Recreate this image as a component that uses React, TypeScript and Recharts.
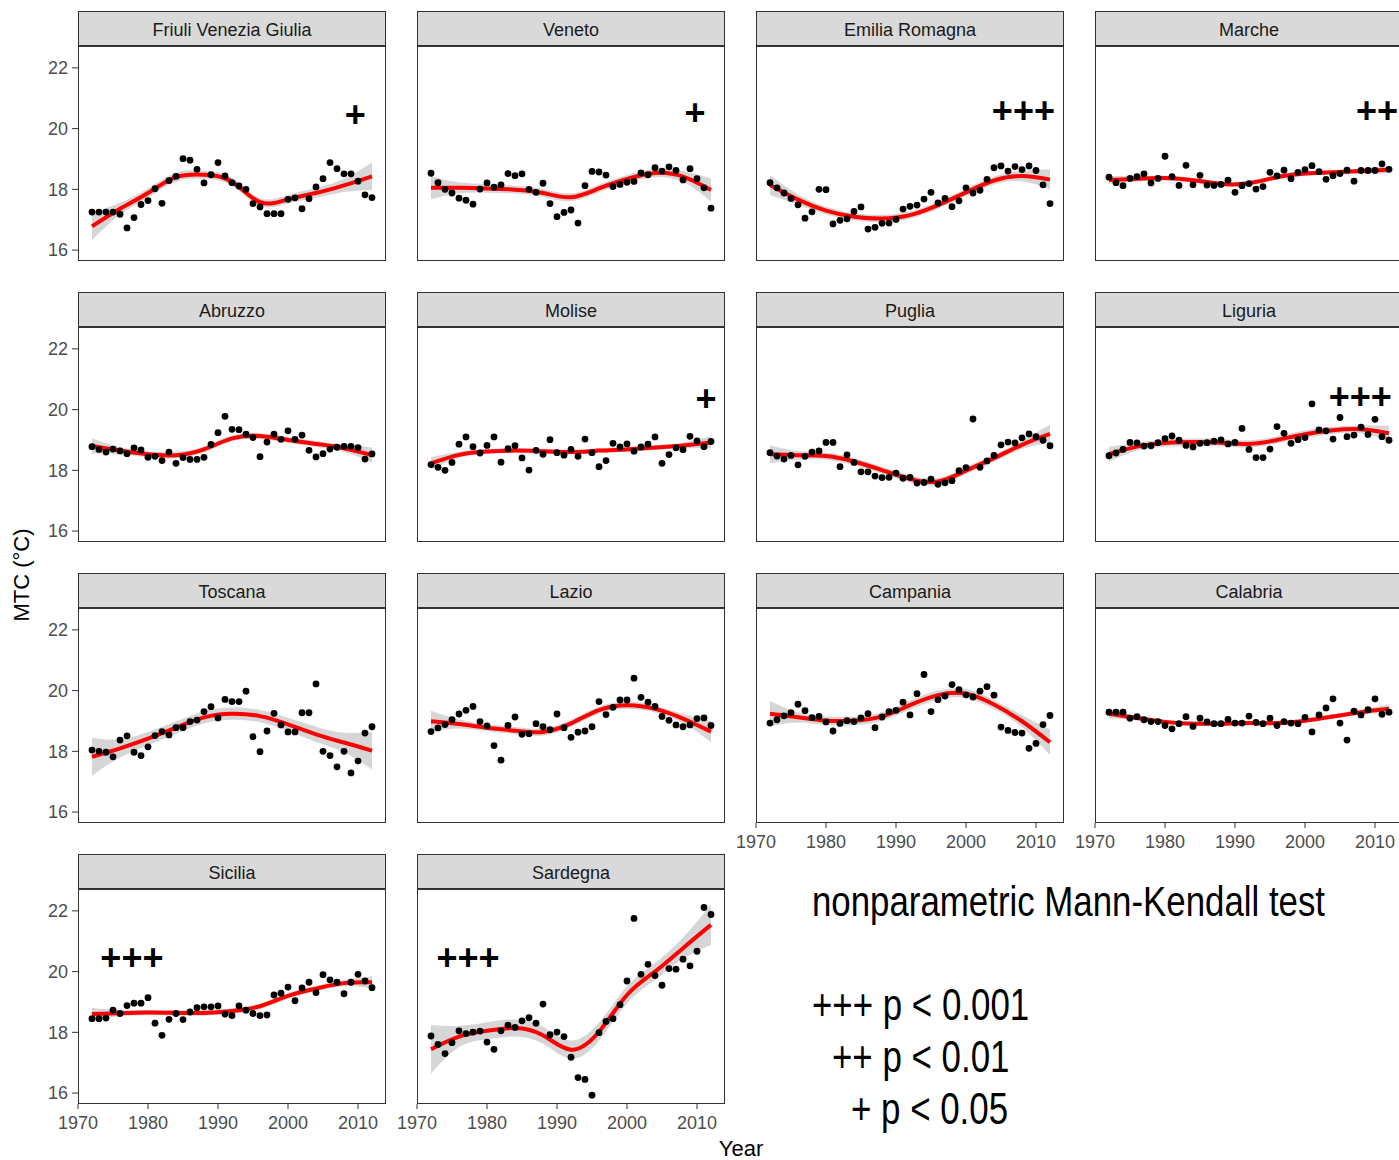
import React from "react"
import { ComposedChart, XAxis, YAxis, Area, Line, Scatter, ReferenceDot } from "recharts"

// observation years and the years where the smoothed curve was read
const YEARS = [
  1972, 1973, 1974, 1975, 1976, 1977, 1978, 1979, 1980, 1981,
  1982, 1983, 1984, 1985, 1986, 1987, 1988, 1989, 1990, 1991,
  1992, 1993, 1994, 1995, 1996, 1997, 1998, 1999, 2000, 2001,
  2002, 2003, 2004, 2005, 2006, 2007, 2008, 2009, 2010, 2011, 2012,
]
const FIT_YEARS = [1972, 1976, 1980, 1984, 1988, 1992, 1996, 2000, 2004, 2008, 2012]
const YEAR_TICKS = [1970, 1980, 1990, 2000, 2010]
const TEMP_TICKS = [16, 18, 20, 22]

const friuliT = [17.25, 17.25, 17.25, 17.25, 17.18, 16.73, 17.07, 17.5, 17.63, 18.02, 17.54, 18.29, 18.43, 19.01, 18.96, 18.66, 18.21, 18.48, 18.88, 18.44, 18.22, 18.11, 18.0, 17.53, 17.42, 17.2, 17.2, 17.2, 17.67, 17.72, 17.36, 17.69, 18.08, 18.35, 18.88, 18.68, 18.51, 18.51, 18.27, 17.82, 17.73]
const friuliFit = [16.78, 17.36, 17.88, 18.4, 18.48, 18.25, 17.58, 17.67, 17.88, 18.13, 18.43]
const friuliSe = [0.45, 0.2, 0.15, 0.15, 0.13, 0.13, 0.13, 0.14, 0.16, 0.22, 0.45]

const venetoT = [18.53, 18.22, 18.0, 17.88, 17.71, 17.64, 17.51, 18.01, 18.21, 18.07, 18.15, 18.52, 18.45, 18.51, 18.0, 17.9, 18.2, 17.53, 17.1, 17.24, 17.32, 16.89, 18.12, 18.59, 18.57, 18.47, 18.09, 18.16, 18.23, 18.26, 18.54, 18.48, 18.71, 18.6, 18.74, 18.62, 18.31, 18.68, 18.35, 18.05, 17.38]
const venetoFit = [18.05, 18.05, 18.03, 17.99, 17.88, 17.74, 18.03, 18.34, 18.54, 18.42, 17.98]
const venetoSe = [0.38, 0.18, 0.14, 0.13, 0.13, 0.13, 0.13, 0.13, 0.14, 0.18, 0.38]

const emiliaT = [18.22, 18.05, 17.88, 17.7, 17.49, 17.05, 17.26, 18.0, 17.99, 16.86, 16.98, 17.03, 17.27, 17.42, 16.69, 16.75, 16.88, 16.89, 17.01, 17.35, 17.44, 17.48, 17.68, 17.9, 17.55, 17.7, 17.43, 17.62, 18.05, 17.88, 17.97, 18.33, 18.71, 18.77, 18.6, 18.75, 18.65, 18.77, 18.62, 18.15, 17.53]
const emiliaFit = [18.14, 17.66, 17.3, 17.1, 17.04, 17.15, 17.48, 17.9, 18.29, 18.44, 18.32]
const emiliaSe = [0.33, 0.17, 0.13, 0.12, 0.12, 0.12, 0.12, 0.12, 0.13, 0.17, 0.33]

const marcheT = [18.4, 18.22, 18.12, 18.36, 18.42, 18.51, 18.21, 18.36, 19.09, 18.42, 18.13, 18.79, 18.15, 18.46, 18.14, 18.13, 18.16, 18.3, 17.9, 18.12, 18.19, 18.01, 18.09, 18.56, 18.44, 18.63, 18.35, 18.56, 18.65, 18.78, 18.58, 18.33, 18.45, 18.52, 18.63, 18.27, 18.62, 18.62, 18.62, 18.84, 18.66]
const marcheFit = [18.31, 18.35, 18.37, 18.3, 18.18, 18.2, 18.4, 18.52, 18.56, 18.6, 18.65]
const marcheSe = [0.13, 0.09, 0.08, 0.08, 0.08, 0.08, 0.08, 0.08, 0.08, 0.09, 0.13]

const abruzzoT = [18.78, 18.69, 18.6, 18.7, 18.64, 18.55, 18.74, 18.67, 18.43, 18.46, 18.32, 18.6, 18.23, 18.42, 18.36, 18.36, 18.43, 18.85, 19.24, 19.78, 19.35, 19.34, 19.19, 19.08, 18.45, 18.93, 19.19, 19.02, 19.3, 19.02, 19.16, 18.66, 18.44, 18.55, 18.7, 18.76, 18.79, 18.79, 18.75, 18.37, 18.54]
const abruzzoFit = [18.8, 18.65, 18.53, 18.5, 18.69, 19.05, 19.13, 19.0, 18.87, 18.73, 18.5]
const abruzzoSe = [0.25, 0.12, 0.1, 0.1, 0.1, 0.1, 0.1, 0.1, 0.1, 0.12, 0.25]

const moliseT = [18.19, 18.1, 18.0, 18.26, 18.86, 19.1, 18.78, 18.57, 18.82, 19.1, 18.27, 18.71, 18.81, 18.41, 18.01, 18.66, 18.53, 19.01, 18.58, 18.5, 18.69, 18.46, 19.03, 18.58, 18.12, 18.32, 18.89, 18.77, 18.87, 18.63, 18.77, 18.86, 19.1, 18.23, 18.52, 18.74, 18.68, 19.12, 18.97, 18.78, 18.95]
const moliseFit = [18.23, 18.51, 18.62, 18.65, 18.63, 18.6, 18.65, 18.69, 18.75, 18.82, 18.92]
const moliseSe = [0.2, 0.1, 0.08, 0.08, 0.08, 0.08, 0.08, 0.08, 0.08, 0.1, 0.2]

const pugliaT = [18.58, 18.47, 18.37, 18.49, 18.18, 18.46, 18.6, 18.64, 18.92, 18.92, 18.12, 18.51, 18.26, 17.95, 17.95, 17.81, 17.76, 17.77, 17.91, 17.74, 17.77, 17.58, 17.6, 17.71, 17.54, 17.59, 17.66, 17.99, 18.09, 19.69, 18.1, 18.31, 18.49, 18.84, 18.93, 18.9, 19.07, 19.2, 19.11, 18.99, 18.81]
const pugliaFit = [18.53, 18.5, 18.47, 18.29, 18.01, 17.72, 17.63, 17.99, 18.4, 18.84, 19.2]
const pugliaSe = [0.3, 0.14, 0.12, 0.12, 0.12, 0.12, 0.12, 0.12, 0.12, 0.14, 0.3]

const liguriaT = [18.48, 18.57, 18.69, 18.92, 18.9, 18.8, 18.81, 18.91, 19.04, 19.13, 18.99, 18.82, 18.77, 18.89, 18.91, 18.96, 19.0, 18.87, 18.92, 19.38, 18.69, 18.42, 18.42, 18.7, 19.44, 19.22, 18.89, 19.01, 19.08, 20.19, 19.33, 19.3, 19.03, 19.74, 19.11, 19.16, 19.42, 19.18, 19.68, 19.11, 18.99]
const liguriaFit = [18.53, 18.78, 18.9, 18.93, 18.91, 18.87, 19.0, 19.19, 19.32, 19.35, 19.22]
const liguriaSe = [0.25, 0.13, 0.12, 0.12, 0.12, 0.12, 0.12, 0.12, 0.12, 0.13, 0.25]

const toscanaT = [18.04, 18.0, 17.97, 17.82, 18.37, 18.51, 17.97, 17.86, 18.15, 18.52, 18.65, 18.54, 18.78, 18.78, 18.98, 19.03, 19.31, 19.47, 19.1, 19.71, 19.64, 19.64, 19.98, 18.48, 17.99, 18.67, 19.25, 18.87, 18.64, 18.64, 19.27, 19.27, 20.22, 18.0, 17.86, 17.49, 18.0, 17.29, 17.68, 18.6, 18.81]
const toscanaFit = [17.82, 18.1, 18.42, 18.78, 19.12, 19.24, 19.16, 18.89, 18.56, 18.29, 18.02]
const toscanaSe = [0.62, 0.3, 0.22, 0.2, 0.2, 0.2, 0.2, 0.22, 0.25, 0.32, 0.62]

const lazioT = [18.65, 18.77, 18.88, 19.04, 19.23, 19.35, 19.48, 18.98, 18.84, 18.19, 17.71, 18.85, 19.13, 18.56, 18.58, 18.91, 18.81, 18.71, 19.23, 18.78, 18.46, 18.63, 18.67, 18.81, 19.64, 19.21, 19.45, 19.69, 19.69, 20.41, 19.78, 19.62, 19.48, 19.15, 19.02, 18.87, 18.81, 18.87, 19.08, 19.1, 18.85]
const lazioFit = [18.99, 18.9, 18.78, 18.68, 18.64, 18.92, 19.36, 19.52, 19.4, 19.08, 18.65]
const lazioSe = [0.35, 0.15, 0.12, 0.12, 0.12, 0.12, 0.12, 0.12, 0.12, 0.15, 0.35]

const campaniaT = [18.93, 19.04, 19.17, 19.27, 19.55, 19.34, 19.11, 19.15, 18.97, 18.67, 18.92, 19.01, 18.98, 19.1, 19.24, 18.78, 19.13, 19.31, 19.35, 19.62, 19.2, 19.9, 20.53, 19.31, 19.7, 19.82, 20.2, 20.03, 19.86, 19.79, 19.98, 20.13, 19.85, 18.8, 18.69, 18.62, 18.6, 18.1, 18.26, 18.88, 19.18]
const campaniaFit = [19.24, 19.12, 19.01, 19.01, 19.15, 19.52, 19.85, 19.9, 19.54, 18.99, 18.3]
const campaniaSe = [0.42, 0.17, 0.14, 0.14, 0.14, 0.15, 0.15, 0.15, 0.15, 0.2, 0.42]

const calabriaT = [19.29, 19.29, 19.29, 19.09, 19.14, 19.04, 18.98, 18.98, 18.85, 18.74, 18.91, 19.14, 18.82, 19.09, 18.97, 18.91, 18.91, 19.05, 18.93, 18.93, 19.16, 18.95, 18.91, 19.09, 18.85, 18.98, 18.93, 18.91, 19.12, 18.64, 19.2, 19.43, 19.73, 18.93, 18.37, 19.32, 19.2, 19.37, 19.73, 19.22, 19.29]
const calabriaFit = [19.24, 19.1, 18.97, 18.91, 18.91, 18.93, 18.93, 19.01, 19.15, 19.29, 19.4]
const calabriaSe = [0.14, 0.08, 0.07, 0.07, 0.07, 0.07, 0.07, 0.07, 0.07, 0.08, 0.14]

const siciliaT = [18.45, 18.45, 18.47, 18.73, 18.62, 18.88, 18.96, 18.96, 19.14, 18.3, 17.9, 18.43, 18.62, 18.42, 18.67, 18.81, 18.84, 18.84, 18.87, 18.6, 18.55, 18.87, 18.73, 18.62, 18.55, 18.57, 19.23, 19.29, 19.49, 19.04, 19.46, 19.65, 19.31, 19.9, 19.73, 19.65, 19.27, 19.65, 19.91, 19.69, 19.47]
const siciliaFit = [18.6, 18.63, 18.65, 18.64, 18.64, 18.7, 18.86, 19.2, 19.44, 19.62, 19.65]
const siciliaSe = [0.2, 0.1, 0.09, 0.09, 0.09, 0.09, 0.09, 0.09, 0.09, 0.1, 0.2]

const sardegnaT = [17.88, 17.6, 17.3, 17.66, 18.05, 17.96, 18.01, 18.04, 17.68, 17.44, 18.05, 18.24, 18.16, 18.38, 18.48, 18.3, 18.93, 17.92, 18.01, 17.86, 17.18, 16.51, 16.45, 15.93, 17.99, 18.36, 18.45, 18.91, 19.69, 21.75, 19.91, 20.24, 19.87, 19.55, 20.1, 20.08, 20.41, 20.19, 20.67, 22.11, 21.88]
const sardegnaFit = [17.44, 17.86, 18.05, 18.14, 17.9, 17.43, 18.02, 19.23, 20.0, 20.77, 21.54]
const sardegnaSe = [0.8, 0.35, 0.28, 0.28, 0.28, 0.3, 0.3, 0.28, 0.28, 0.35, 0.66]

// Mann-Kendall significance marks: [label, year, temperature]
const friuliMark = ["+", 2009.6, 20.45]
const venetoMark = ["+", 2009.7, 20.52]
const emiliaMark = ["+++", 2008.2, 20.58]
const marcheMark = ["++", 2010.3, 20.6]
const moliseMark = ["+", 2011.3, 20.38]
const liguriaMark = ["+++", 2007.9, 20.42]
const siciliaMark = ["+++", 1977.7, 20.48]
const sardegnaMark = ["+++", 1977.3, 20.48]

const REGIONS = [
  { name: "Friuli Venezia Giulia", t: friuliT, fit: friuliFit, se: friuliSe, mark: friuliMark },
  { name: "Veneto", t: venetoT, fit: venetoFit, se: venetoSe, mark: venetoMark },
  { name: "Emilia Romagna", t: emiliaT, fit: emiliaFit, se: emiliaSe, mark: emiliaMark },
  { name: "Marche", t: marcheT, fit: marcheFit, se: marcheSe, mark: marcheMark },
  { name: "Abruzzo", t: abruzzoT, fit: abruzzoFit, se: abruzzoSe, mark: null },
  { name: "Molise", t: moliseT, fit: moliseFit, se: moliseSe, mark: moliseMark },
  { name: "Puglia", t: pugliaT, fit: pugliaFit, se: pugliaSe, mark: null },
  { name: "Liguria", t: liguriaT, fit: liguriaFit, se: liguriaSe, mark: liguriaMark },
  { name: "Toscana", t: toscanaT, fit: toscanaFit, se: toscanaSe, mark: null },
  { name: "Lazio", t: lazioT, fit: lazioFit, se: lazioSe, mark: null },
  { name: "Campania", t: campaniaT, fit: campaniaFit, se: campaniaSe, mark: null },
  { name: "Calabria", t: calabriaT, fit: calabriaFit, se: calabriaSe, mark: null },
  { name: "Sicilia", t: siciliaT, fit: siciliaFit, se: siciliaSe, mark: siciliaMark },
  { name: "Sardegna", t: sardegnaT, fit: sardegnaFit, se: sardegnaSe, mark: sardegnaMark },
]

const FONT = "'Liberation Sans', Arial, sans-serif"
const PANEL_W = 308
const PANEL_H = 215
const STRIP_H = 35
const COL_X = [78, 417, 756, 1095]
const ROW_Y = [46, 327, 608, 889]
const SIDE = 30

const tickStyle = { fontSize: 18, fill: "#4D4D4D", fontFamily: FONT }

const PointDot = (p: any) => <circle cx={p.cx} cy={p.cy} r={3.4} fill="#000" />

function Panel({ region, index }: { region: any; index: number }) {
  const col = index % 4
  const row = Math.floor(index / 4)
  const left = COL_X[col]
  const top = ROW_Y[row]
  const showY = col === 0
  const showX = row === 3 || (row === 2 && col >= 2)
  const yW = showY ? 42 : 0
  const xH = showX ? 38 : 0

  const fitRows = FIT_YEARS.map((year, i) => ({
    year,
    fit: region.fit[i],
    band: [region.fit[i] - region.se[i], region.fit[i] + region.se[i]],
  }))
  const points = YEARS.map((year, i) => ({ year, t: region.t[i] }))

  return (
    <>
      <div
        style={{
          position: "absolute",
          left,
          top: top - STRIP_H,
          width: PANEL_W,
          height: STRIP_H,
          boxSizing: "border-box",
          background: "#D9D9D9",
          border: "1px solid #333",
          display: "flex",
          alignItems: "center",
          justifyContent: "center",
          paddingTop: 3,
          fontSize: 18,
          color: "#1A1A1A",
        }}
      >
        {region.name}
      </div>
      <div style={{ position: "absolute", left: left - yW - SIDE, top }}>
        <ComposedChart
          width={PANEL_W + yW + SIDE * 2}
          height={PANEL_H + xH}
          data={fitRows}
          margin={{ top: 0, right: SIDE, bottom: 0, left: SIDE }}
        >
          <XAxis
            dataKey="year"
            type="number"
            domain={[1970, 2014]}
            ticks={YEAR_TICKS}
            interval={0}
            allowDataOverflow
            hide={!showX}
            height={xH}
            axisLine={false}
            tickLine={{ stroke: "#333" }}
            tickSize={5}
            tickMargin={7}
            tick={tickStyle}
          />
          <YAxis
            type="number"
            domain={[15.64, 22.72]}
            ticks={TEMP_TICKS}
            interval={0}
            allowDataOverflow
            hide={!showY}
            width={yW}
            axisLine={false}
            tickLine={{ stroke: "#333" }}
            tickSize={6}
            tickMargin={4}
            tick={tickStyle}
          />
          <Area
            dataKey="band"
            type="natural"
            fill="#999999"
            fillOpacity={0.4}
            stroke="none"
            isAnimationActive={false}
          />
          <Line
            dataKey="fit"
            type="natural"
            stroke="#FF0000"
            strokeWidth={4}
            dot={false}
            isAnimationActive={false}
          />
          <Scatter data={points} dataKey="t" shape={PointDot} isAnimationActive={false} />
          {region.mark && (
            <ReferenceDot
              x={region.mark[1]}
              y={region.mark[2]}
              r={0}
              shape={(p: any) => (
                <text
                  x={p.cx}
                  y={p.cy}
                  textAnchor="middle"
                  dominantBaseline="central"
                  fontSize={36}
                  fontWeight="bold"
                  fontFamily={FONT}
                  fill="#000"
                >
                  {region.mark[0]}
                </text>
              )}
            />
          )}
        </ComposedChart>
      </div>
      <div
        style={{
          position: "absolute",
          left,
          top,
          width: PANEL_W,
          height: PANEL_H,
          boxSizing: "border-box",
          border: "1px solid #333",
          pointerEvents: "none",
        }}
      />
    </>
  )
}

const legendLine = (text: string, left: number, top: number, size: number, squeeze: number) => (
  <div
    style={{
      position: "absolute",
      left,
      top,
      fontSize: size,
      lineHeight: `${size}px`,
      whiteSpace: "nowrap",
      transform: `scaleX(${squeeze})`,
      transformOrigin: "left top",
      color: "#000",
    }}
  >
    {text}
  </div>
)

export default function App() {
  return (
    <div
      style={{
        position: "absolute",
        left: 0,
        top: 0,
        width: 1399,
        height: 1160,
        overflow: "hidden",
        background: "#fff",
        fontFamily: FONT,
      }}
    >
      {REGIONS.map((r, i) => (
        <Panel key={r.name} region={r} index={i} />
      ))}
      <div
        style={{
          position: "absolute",
          left: 22,
          top: 575,
          transform: "translate(-50%, -50%) rotate(-90deg)",
          fontSize: 22,
          lineHeight: "22px",
          whiteSpace: "nowrap",
          color: "#000",
        }}
      >
        MTC (°C)
      </div>
      <div
        style={{
          position: "absolute",
          left: 741,
          top: 1139,
          transform: "translateX(-50%)",
          fontSize: 22,
          lineHeight: "20px",
          color: "#000",
        }}
      >
        Year
      </div>
      {legendLine("nonparametric Mann-Kendall test", 812, 880, 43, 0.81)}
      {legendLine("+++ p < 0.001", 812, 982, 45, 0.775)}
      {legendLine("++ p < 0.01", 832, 1034, 45, 0.775)}
      {legendLine("+ p < 0.05", 851, 1086, 45, 0.775)}
    </div>
  )
}
